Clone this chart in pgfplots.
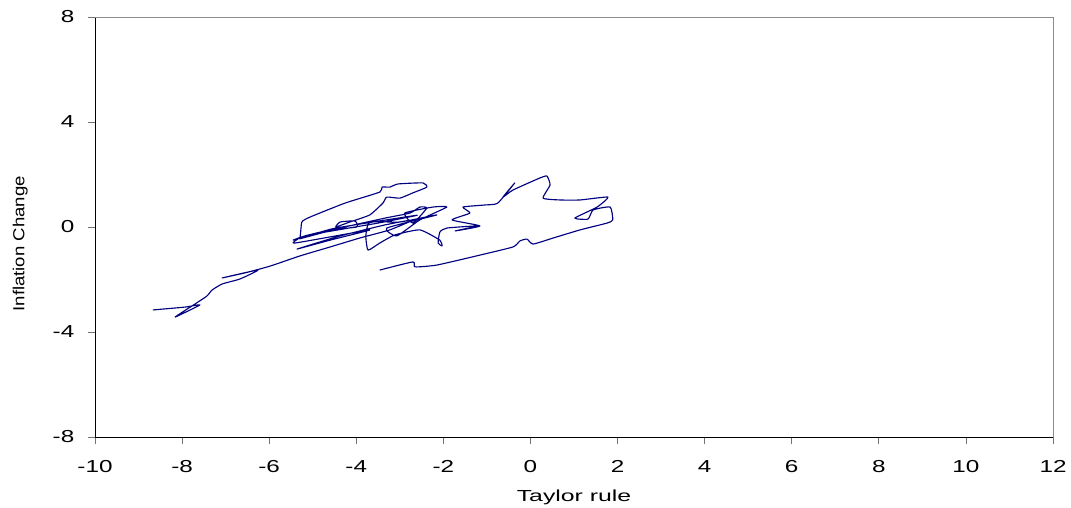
\documentclass[border=0pt]{standalone}
\usepackage{pgfplots}
\pgfplotsset{compat=1.18}
\usepackage{graphicx}
\usepackage{fontspec}
\setmainfont{Liberation Sans}
\definecolor{navyline}{RGB}{0,0,128}
\newcommand{\st}[1]{\scalebox{1.4}[1]{#1}}
\begin{document}
\begin{tikzpicture}
\begin{axis}[
  at={(0,0)}, anchor=south west,
  scale only axis, width=718.5pt, height=315pt,
  xmin=-10, xmax=12, ymin=-8, ymax=8,
  axis lines=left, axis line style={-, black, line width=0.6pt},
  xtick={-10,-8,-6,-4,-2,0,2,4,6,8,10,12},
  xticklabels={\st{-10},\st{-8},\st{-6},\st{-4},\st{-2},\st{0},\st{2},\st{4},\st{6},\st{8},\st{10},\st{12}},
  ytick={-8,-4,0,4,8},
  yticklabels={\st{-8},\st{-4},\st{0},\st{4},\st{8}},
  tick align=outside, major tick length=5pt,
  tick style={black!55, line width=0.6pt},
  ticklabel style={font=\fontsize{13}{15}\selectfont},
  xticklabel style={yshift=-9pt},
  yticklabel style={xshift=-7pt},
  xlabel={\scalebox{1.55}[1]{Taylor rule}},
  ylabel={\scalebox{1.16}[1]{Inflation Change}},
  label style={font=\fontsize{12}{14}\selectfont},
  x label style={at={(axis description cs:0.5,-0.143)}, anchor=center},
  y label style={at={(axis description cs:-0.078,0.46)}, anchor=center},
  clip=false,
]
\draw[black!45, line width=0.6pt] (rel axis cs:0,1) -- (rel axis cs:1,1) -- (rel axis cs:1,0);
\addplot[navyline, line width=0.85pt, line join=round, smooth, tension=0.3] coordinates {
(-8.67,-3.16) (-7.93,-3.05) (-7.59,-2.97) (-8.16,-3.43) (-7.70,-2.93)
(-7.43,-2.63) (-7.31,-2.40) (-7.08,-2.17) (-6.67,-1.98) (-6.26,-1.64)
(-7.08,-1.94) (-6.56,-1.75) (-5.98,-1.49) (-5.29,-1.10) (-4.60,-0.76)
(-3.92,-0.42) (-3.23,-0.11) (-2.70,0.27) (-3.34,0.08) (-4.37,-0.34)
(-5.36,-0.84) (-4.60,-0.50) (-3.69,-0.11) (-5.41,-0.61) (-5.29,-0.38)
(-5.25,0.19) (-5.06,0.38) (-4.26,0.91) (-3.46,1.33) (-3.41,1.52)
(-3.23,1.52) (-3.04,1.64) (-2.47,1.68) (-2.38,1.52) (-2.70,1.30)
(-3.00,1.10) (-3.30,1.14) (-3.39,0.91) (-3.69,0.46) (-4.15,0.19)
(-4.47,0.00) (-4.37,0.19) (-4.03,0.23) (-3.99,0.00) (-4.60,-0.11)
(-5.18,-0.34) (-5.45,-0.50) (-4.90,-0.25) (-3.50,0.15) (-2.60,0.45)
(-4.50,-0.05) (-5.30,-0.45) (-4.37,-0.04) (-3.34,0.34) (-2.77,0.53)
(-2.54,0.76) (-2.38,0.72) (-2.70,0.15) (-2.89,0.53) (-2.24,0.76)
(-1.92,0.76) (-2.54,0.27) (-3.07,-0.34) (-3.30,-0.04) (-2.15,0.46)
(-3.00,0.19) (-3.69,0.19) (-3.78,-0.34) (-3.73,-0.88) (-3.46,-0.61)
(-3.11,-0.30) (-2.54,-0.11)
(-2.08,-0.50) (-2.03,-0.72) (-2.12,-0.61) (-2.08,-0.19) (-1.92,-0.04)
(-1.23,0.04) (-1.73,-0.15) (-1.16,0.04) (-1.80,0.27)
(-1.39,0.53) (-1.55,0.76) (-1.04,0.84) (-0.75,0.91) (-0.36,1.68)
(-0.63,1.14) (-0.40,1.41) (0.22,1.87) (0.38,1.94) (0.45,1.60)
(0.29,1.10) (0.68,1.03) (1.14,1.03) (1.78,1.14) (1.53,0.76)
(1.02,0.34) (1.32,0.30) (1.44,0.65) (1.83,0.76) (1.89,0.27)
(1.76,0.15) (1.14,-0.11) (0.52,-0.42) (0.06,-0.65) (-0.08,-0.46)
(-0.24,-0.53) (-0.40,-0.76)
(-1.16,-1.07) (-2.15,-1.45) (-2.65,-1.52) (-2.70,-1.33) (-3.46,-1.64)
};
\end{axis}
\pgfresetboundingbox
\path[use as bounding box] (-71.25pt,-52.5pt) rectangle (732pt,327.75pt);
\end{tikzpicture}
\end{document}
